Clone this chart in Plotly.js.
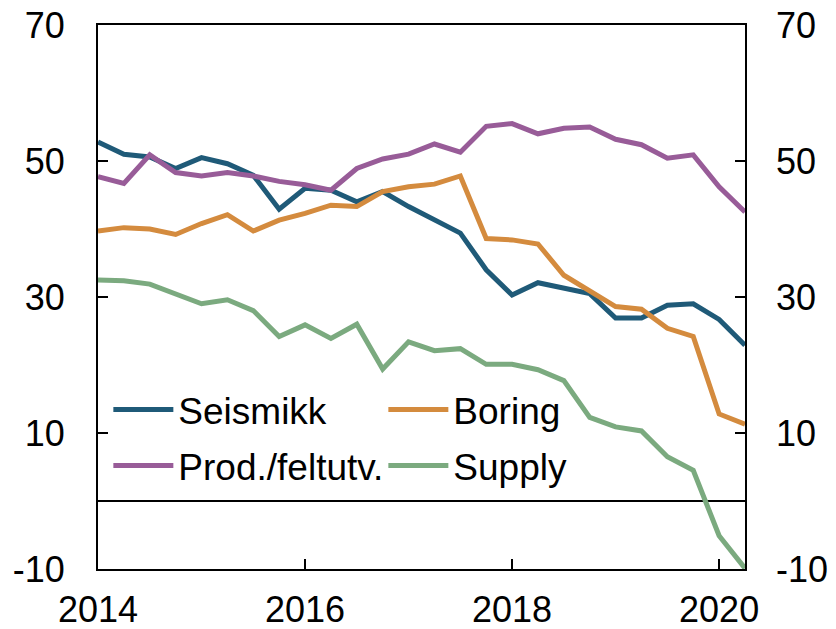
<!DOCTYPE html>
<html>
<head>
<meta charset="utf-8">
<script src="https://cdn.plot.ly/plotly-3.0.1.min.js"></script>
<style>html,body{margin:0;padding:0;background:#fff;}#chart{width:836px;height:629px;}</style>
</head>
<body>
<div id="chart"></div>
<script>
// Quarterly observations, 2014Q1 .. 2020Q2 (as decimal years)
const quarters = [2014.00, 2014.25, 2014.50, 2014.75, 2015.00, 2015.25, 2015.50, 2015.75,
  2016.00, 2016.25, 2016.50, 2016.75, 2017.00, 2017.25, 2017.50, 2017.75,
  2018.00, 2018.25, 2018.50, 2018.75, 2019.00, 2019.25, 2019.50, 2019.75,
  2020.00, 2020.25];

const seismikk = [52.8, 51.0, 50.6, 48.9, 50.5, 49.6, 47.9, 42.9, 46.0, 45.7, 44.0, 45.5, 43.3,
  41.3, 39.4, 34.0, 30.3, 32.1, 31.3, 30.5, 26.9, 26.9, 28.8, 29.0, 26.7, 22.9];
const boring = [39.7, 40.2, 40.0, 39.2, 40.8, 42.1, 39.7, 41.3, 42.3, 43.5, 43.3, 45.5, 46.2,
  46.6, 47.8, 38.6, 38.4, 37.8, 33.2, 31.0, 28.6, 28.2, 25.4, 24.2, 12.8, 11.3];
const prod = [47.7, 46.7, 50.9, 48.3, 47.8, 48.3, 47.8, 47.0, 46.5, 45.7, 48.9, 50.3, 51.0,
  52.5, 51.3, 55.1, 55.5, 54.0, 54.8, 55.0, 53.2, 52.4, 50.4, 50.9, 46.2, 42.5];
const supply = [32.5, 32.4, 31.9, 30.4, 29.0, 29.6, 28.0, 24.2, 25.9, 23.9, 26.0, 19.4, 23.4,
  22.1, 22.4, 20.1, 20.1, 19.3, 17.7, 12.3, 10.9, 10.3, 6.5, 4.5, -5.1, -9.9];

const names = ['Seismikk', 'Boring', 'Prod./feltutv.', 'Supply'];
const colors = ['#1F5A78', '#D48B3E', '#985C98', '#7BAA7F'];
const series = [seismikk, boring, prod, supply];
const legendOf = ['legend', 'legend', 'legend2', 'legend2'];

const yTicks = [-10, 10, 30, 50, 70];
const yTickText = ['-10', '10', '30', '50', '70'];
const xTicks = [2014, 2016, 2018, 2020];
const xTickText = ['2014', '2016', '2018', '2020'];

const FONT = 'Liberation Sans, Arial, sans-serif';
const TICKSIZE = 36;

const traces = series.map((s, i) => ({
  x: quarters, y: s, name: names[i], type: 'scatter', mode: 'lines',
  line: {color: colors[i], width: 5}, legend: legendOf[i]
}));
// invisible trace to carry right axis labels
traces.push({x: quarters, y: seismikk, yaxis: 'y2', mode: 'lines', line: {width: 0, color: 'rgba(0,0,0,0)'},
  showlegend: false, hoverinfo: 'skip'});

const legendCommon = {
  orientation: 'h', bgcolor: 'rgba(0,0,0,0)', borderwidth: 0,
  font: {family: FONT, size: 37, color: '#000'},
  entrywidth: 200, entrywidthmode: 'pixels', itemwidth: 60,
  xanchor: 'left', yanchor: 'middle', x: 0.016, traceorder: 'normal'
};

const layout = {
  width: 836, height: 629,
  margin: {l: 98, r: 91, t: 25, b: 60, pad: 0},
  paper_bgcolor: '#fff', plot_bgcolor: '#fff',
  font: {family: FONT, size: TICKSIZE, color: '#000'},
  showlegend: true,
  legend: Object.assign({}, legendCommon, {y: (569 - 410) / 544}),
  legend2: Object.assign({}, legendCommon, {y: (569 - 466) / 544}),
  xaxis: {
    range: [2014, 2020.25], tickvals: xTicks, ticktext: xTickText,
    ticks: 'inside', ticklen: 10, tickwidth: 1.5, tickcolor: '#000',
    showline: true, linecolor: '#000', linewidth: 2, mirror: true,
    ticklabelstandoff: 8,
    showgrid: false, zeroline: false, tickfont: {family: FONT, size: TICKSIZE, color: '#000'}
  },
  yaxis: {
    range: [-10, 70], tickvals: yTicks, ticktext: yTickText,
    ticks: 'inside', ticklen: 10, tickwidth: 1.5, tickcolor: '#000',
    showline: true, linecolor: '#000', linewidth: 2, mirror: true,
    showgrid: false, zeroline: true, zerolinecolor: '#000', zerolinewidth: 1.5,
    ticklabelstandoff: 24,
    tickfont: {family: FONT, size: TICKSIZE, color: '#000'}
  },
  yaxis2: {
    range: [-10, 70], tickvals: yTicks, ticktext: yTickText, overlaying: 'y', side: 'right',
    ticks: 'inside', ticklen: 10, tickwidth: 1.5, tickcolor: '#000',
    showline: false, showgrid: false, zeroline: false,
    ticklabelstandoff: 30,
    tickfont: {family: FONT, size: TICKSIZE, color: '#000'}
  }
};

Plotly.newPlot('chart', traces, layout, {displayModeBar: false, staticPlot: true});
</script>
</body>
</html>
